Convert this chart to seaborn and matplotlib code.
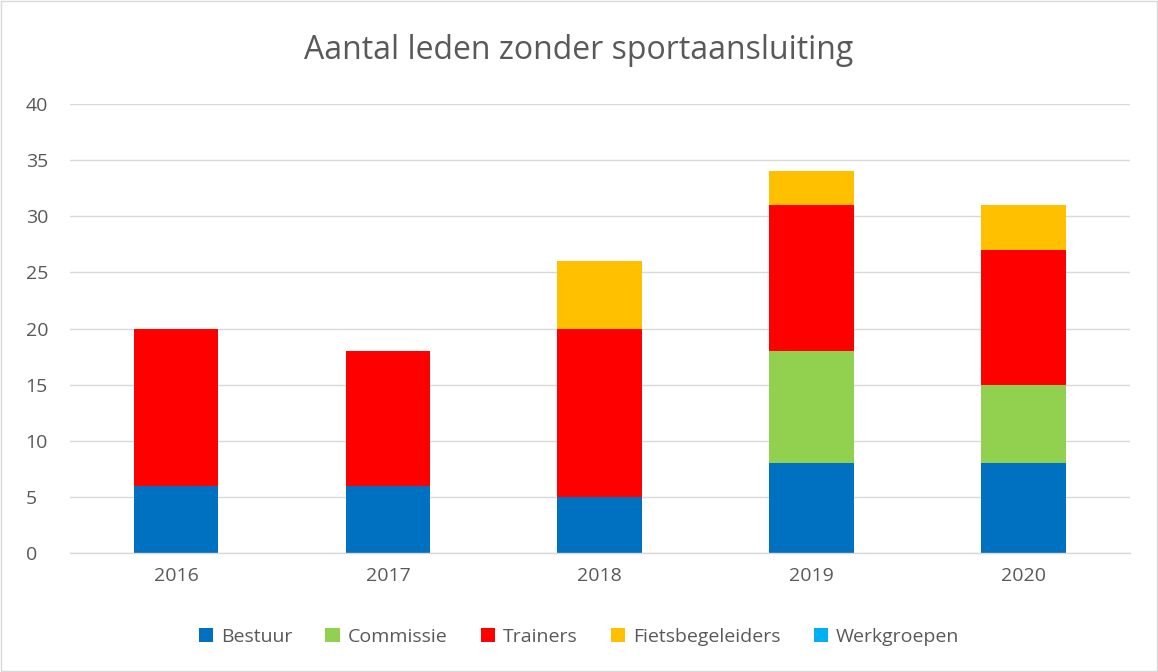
import numpy as np
import pandas as pd
import matplotlib
matplotlib.use("Agg")
import matplotlib.pyplot as plt
import seaborn as sns
from matplotlib.patches import Patch, Rectangle

years = ["2016", "2017", "2018", "2019", "2020"]
series_names = ["Bestuur", "Commissie", "Trainers", "Fietsbegeleiders", "Werkgroepen"]
bestuur = [6, 6, 5, 8, 8]
commissie = [0, 0, 0, 10, 7]
trainers = [14, 12, 15, 13, 12]
fietsbegeleiders = [0, 0, 6, 3, 4]
werkgroepen = [0, 0, 0, 0, 0]
colors = ["#0070C0", "#92D050", "#FF0000", "#FFC000", "#00B0F0"]
yticks = [0, 5, 10, 15, 20, 25, 30, 35, 40]

sns.set_theme(style="white")
plt.rcParams['font.family'] = ['Open Sans', 'DejaVu Sans']

fig = plt.figure(figsize=(11.58, 6.72), dpi=100)
ax = fig.add_axes([0.0605, 0.177, 0.915, 0.668])

values = [bestuur, commissie, trainers, fietsbegeleiders, werkgroepen]
bottom = np.zeros(len(years))
for name, vals, col in zip(series_names, values, colors):
    df = pd.DataFrame({"year": years, "val": vals})
    sns.barplot(data=df, x="year", y="val", order=years, color=col,
                bottom=bottom, width=0.4, ax=ax, saturation=1, linewidth=0)
    bottom = bottom + np.array(vals)

ax.set_ylim(0, 40)
ax.set_xlim(-0.5, 4.5)
ax.set_yticks(yticks)
ax.yaxis.grid(True, color="#D9D9D9", linewidth=1)
ax.set_axisbelow(True)
for s in ["top", "right", "left"]:
    ax.spines[s].set_visible(False)
ax.spines["bottom"].set_color("#D9D9D9")
ax.spines["bottom"].set_linewidth(1)
ax.tick_params(axis="both", length=0, labelsize=14, colors="#595959", pad=10)
ax.tick_params(axis="y", pad=32)
for lab in ax.get_yticklabels():
    lab.set_horizontalalignment("left")
ax.set_xlabel("")
ax.set_ylabel("")

fig.text(0.5, 0.925, "Aantal leden zonder sportaansluiting", ha="center", va="center",
         fontsize=23, color="#595959")

handles = [Patch(facecolor=c, edgecolor="none") for c in colors]
fig.legend(handles, series_names, loc="center", bbox_to_anchor=(0.5, 0.052), ncol=5,
           frameon=False, fontsize=14, labelcolor="#595959", handlelength=0.75,
           handleheight=0.75, columnspacing=1.7, handletextpad=0.4)

fig.patches.append(Rectangle((0.001, 0.0015), 0.998, 0.997, transform=fig.transFigure,
                             fill=False, edgecolor="#D9D9D9", linewidth=1))

fig.savefig("out.png", dpi=100, facecolor="white")
